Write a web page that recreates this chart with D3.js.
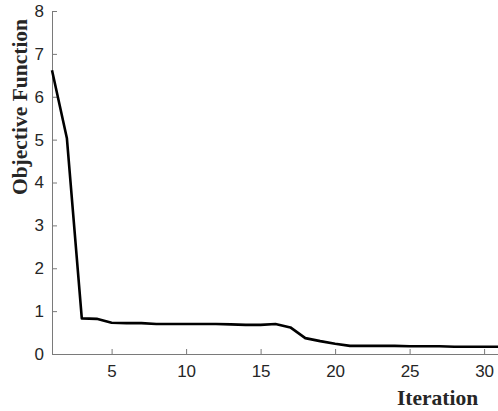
<!DOCTYPE html>
<html>
<head>
<meta charset="utf-8">
<script src="https://cdn.jsdelivr.net/npm/d3@7"></script>
<style>
  html, body { margin: 0; padding: 0; background: #fff; }
  svg { display: block; }
</style>
</head>
<body>
<svg id="chart" width="498" height="411"></svg>
<script>
const iterations = d3.range(1, 32);
const objective = [6.62, 5.03, 0.83, 0.82, 0.73, 0.72, 0.72, 0.70, 0.70, 0.70,
                   0.70, 0.70, 0.69, 0.68, 0.68, 0.70, 0.62, 0.37, 0.30, 0.24,
                   0.19, 0.19, 0.19, 0.19, 0.18, 0.18, 0.18, 0.17, 0.17, 0.17, 0.17];
const xTicks = [5, 10, 15, 20, 25, 30];
const yTicks = [0, 1, 2, 3, 4, 5, 6, 7, 8];
const xLabel = "Iteration";
const yLabel = "Objective Function";

const svg = d3.select("#chart");
const plotLeft = 52, plotRight = 499, plotTop = 11, plotBottom = 354;

const x = d3.scaleLinear().domain([1, 31]).range([plotLeft, plotRight]);
const y = d3.scaleLinear().domain([0, 8]).range([plotBottom, plotTop]);

const axisColor = "#7a7a7a";
const textColor = "#262626";

// X axis
const gx = svg.append("g").attr("transform", `translate(0,${plotBottom})`)
  .call(d3.axisBottom(x).tickValues(xTicks).tickSizeInner(-5).tickSizeOuter(0).tickPadding(11));
// Y axis
const gy = svg.append("g").attr("transform", `translate(${plotLeft},0)`)
  .call(d3.axisLeft(y).tickValues(yTicks).tickSizeInner(-5).tickSizeOuter(0).tickPadding(8));

[gx, gy].forEach(g => {
  g.select(".domain").attr("stroke", axisColor).attr("stroke-width", 1);
  g.selectAll(".tick line").attr("stroke", axisColor).attr("stroke-width", 1);
  g.selectAll(".tick text")
    .attr("fill", textColor)
    .style("font-family", "'Liberation Sans', Arial, Helvetica, sans-serif")
    .style("font-size", "17px");
});
gx.selectAll(".tick text").attr("dy", "0.71em");

// Line
const line = d3.line()
  .x((d, i) => x(iterations[i]))
  .y(d => y(d));

svg.append("path")
  .datum(objective)
  .attr("fill", "none")
  .attr("stroke", "#000")
  .attr("stroke-width", 2.6)
  .attr("stroke-linejoin", "round")
  .attr("d", line);

// Axis labels
svg.append("text")
  .attr("x", 437.5)
  .attr("y", 405)
  .attr("text-anchor", "middle")
  .attr("fill", textColor)
  .style("font-family", "'Liberation Serif', 'Times New Roman', serif")
  .style("font-weight", "bold")
  .style("font-size", "21.5px")
  .text(xLabel);

svg.append("text")
  .attr("transform", "translate(27,107) rotate(-90)")
  .attr("text-anchor", "middle")
  .attr("fill", textColor)
  .style("font-family", "'Liberation Serif', 'Times New Roman', serif")
  .style("font-weight", "bold")
  .style("font-size", "21.5px")
  .text(yLabel);
</script>
</body>
</html>
